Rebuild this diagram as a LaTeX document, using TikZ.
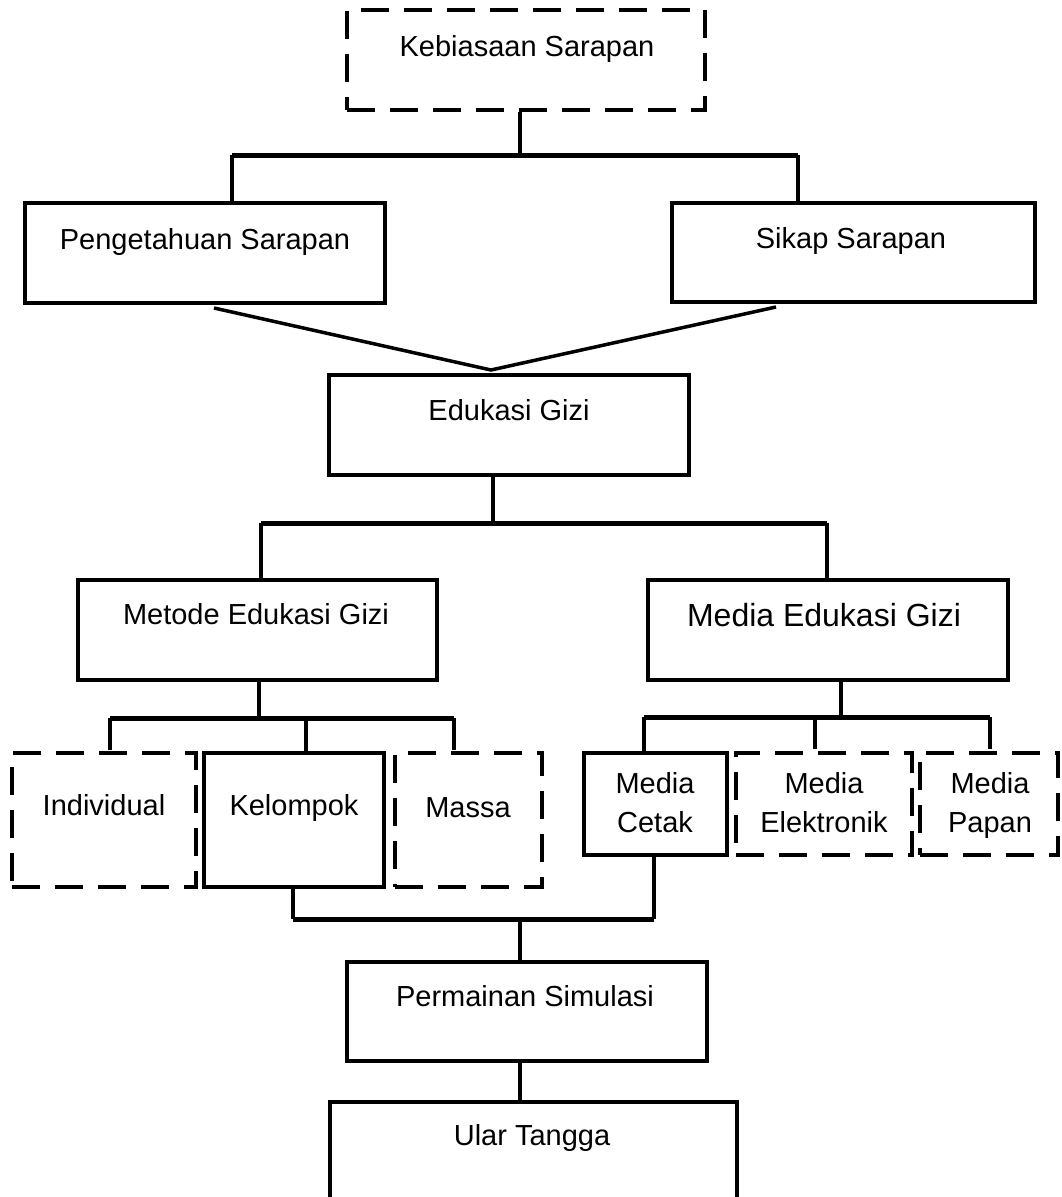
\documentclass[tikz,border=0pt]{standalone}
\usepackage{fontspec}
\setmainfont{Liberation Sans}
\begin{document}
\begin{tikzpicture}[x=1pt,y=-1pt,
  box/.style={draw, line width=4pt, inner sep=0pt},
  dbox/.style={box, dash pattern=on 28pt off 15pt},
  lbl/.style={anchor=base, inner sep=0pt, font=\fontsize{29}{35}\selectfont},
  lblb/.style={anchor=base, inner sep=0pt, font=\fontsize{32}{38}\selectfont},
  conn/.style={line width=3.5pt},
  bar/.style={line width=5pt}]
\useasboundingbox (0,0) rectangle (1062,1197);
% boxes
\node[dbox, minimum width=358, minimum height=100] (keb) at (526,60) {};
\node[box, minimum width=360, minimum height=100] (peng) at (205,253) {};
\node[box, minimum width=363, minimum height=99] (sikap) at (853.5,252.5) {};
\node[box, minimum width=360, minimum height=100] (edu) at (509,425) {};
\node[box, minimum width=359, minimum height=100] (metode) at (257.5,630) {};
\node[box, minimum width=360, minimum height=100] (media) at (828,630) {};
\node[dbox, minimum width=184, minimum height=134] (indiv) at (104,820) {};
\node[box, minimum width=180, minimum height=134] (kel) at (294,820) {};
\node[dbox, minimum width=147, minimum height=134] (massa) at (468.5,820) {};
\node[box, minimum width=143, minimum height=102] (cetak) at (655.5,804) {};
\node[dbox, minimum width=176, minimum height=102] (elek) at (824,804) {};
\node[dbox, minimum width=138, minimum height=102] (papan) at (989,804) {};
\node[box, minimum width=360, minimum height=99] (perm) at (527,1011.5) {};
\node[box, minimum width=407, minimum height=130] (ular) at (533.5,1167) {};
% labels
\node[lbl] (tkeb) at (527,56) {Kebiasaan Sarapan};
\node[lbl] (tpeng) at (205,249) {Pengetahuan Sarapan};
\node[lbl] (tsikap) at (851,248) {Sikap Sarapan};
\node[lbl] (tedu) at (509,420) {Edukasi Gizi};
\node[lbl] (tmetode) at (256,624) {Metode Edukasi Gizi};
\node[lblb] (tmedia) at (824,626) {Media Edukasi Gizi};
\node[lbl] (tindiv) at (104,815) {Individual};
\node[lbl] (tkel) at (294,815) {Kelompok};
\node[lbl] (tmassa) at (468,817) {Massa};
\node[lbl] (tcetak1) at (655,793) {Media};
\node[lbl] (tcetak2) at (655,832) {Cetak};
\node[lbl] (telek1) at (824,793) {Media};
\node[lbl] (telek2) at (824,832) {Elektronik};
\node[lbl] (tpapan1) at (990,793) {Media};
\node[lbl] (tpapan2) at (990,832) {Papan};
\node[lbl] (tperm) at (525,1006) {Permainan Simulasi};
\node[lbl] (tular) at (532,1145) {Ular Tangga};
% junction coordinates
\coordinate (j1) at (520,155);
\coordinate (j1l) at (232,155);
\coordinate (j1r) at (798,155);
\coordinate (j2) at (491,370);
\coordinate (j3) at (493,523);
\coordinate (j3l) at (261,523);
\coordinate (j3r) at (827,523);
\coordinate (j4) at (259,718);
\coordinate (j4l) at (110,718);
\coordinate (j4m) at (306,718);
\coordinate (j4r) at (454,718);
\coordinate (j5) at (841,717);
\coordinate (j5l) at (644,717);
\coordinate (j5m) at (815,717);
\coordinate (j5r) at (990,717);
\coordinate (j6l) at (293,919);
\coordinate (j6r) at (654,919);
\coordinate (j6) at (520,919);
\coordinate (pengo) at (214,308);
\coordinate (sikapo) at (776,307);
% connectors
\draw[conn] (keb.south -| j1) -- (j1);
\draw[bar] (j1l) -- (j1r);
\draw[conn] (j1l) -- (j1l |- peng.north);
\draw[conn] (j1r) -- (j1r |- sikap.north);
\draw[conn] (pengo) -- (j2) -- (sikapo);
\draw[conn] (edu.south -| j3) -- (j3);
\draw[bar] (j3l) -- (j3r);
\draw[conn] (j3l) -- (j3l |- metode.north);
\draw[conn] (j3r) -- (j3r |- media.north);
\draw[conn] (metode.south -| j4) -- (j4);
\draw[bar] (j4l) -- (j4r);
\draw[conn] (j4l) -- ++(0,32);
\draw[conn] (j4m) -- (j4m |- kel.north);
\draw[conn] (j4r) -- ++(0,32);
\draw[conn] (media.south -| j5) -- (j5);
\draw[bar] (j5l) -- (j5r);
\draw[conn] (j5l) -- (j5l |- cetak.north);
\draw[conn] (j5m) -- ++(0,32);
\draw[conn] (j5r) -- ++(0,32);
\draw[conn] (kel.south -| j6l) -- (j6l);
\draw[conn] (cetak.south -| j6r) -- (j6r);
\draw[bar] (j6l) -- (j6r);
\draw[conn] (j6) -- (j6 |- perm.north);
\draw[conn] (perm.south -| j6) -- (j6 |- ular.north);
\end{tikzpicture}
\end{document}
